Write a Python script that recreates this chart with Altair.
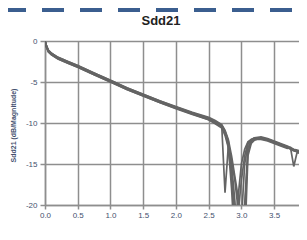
import altair as alt
import pandas as pd

freq = [0, 0.02, 0.05, 0.1, 0.2, 0.35, 0.5, 0.75, 1.0, 1.25, 1.5, 1.75, 2.0, 2.25,
        2.5, 2.6, 2.7, 2.75, 2.8, 2.85, 2.9, 2.95, 3.0, 3.05, 3.1, 3.15, 3.2, 3.3,
        3.4, 3.5, 3.6, 3.7, 3.75, 3.8, 3.85, 3.9, 4.0]

trace1 = [0, -0.6, -1.2, -1.6, -2.1, -2.6, -3.1, -4.0, -4.9, -5.8, -6.6, -7.4, -8.15, -8.85,
          -9.5, -9.9, -10.4, -18.5, -12.8, -16.0, -23.0, -19.0, -15.0, -13.2, -12.3, -12.0, -11.8, -11.8,
          -12.0, -12.3, -12.6, -12.9, -13.1, -13.3, -13.4, -13.5, -13.8]
trace2 = [0, -0.7, -1.3, -1.7, -2.2, -2.7, -3.2, -4.1, -5.0, -5.9, -6.7, -7.5, -8.25, -8.95,
          -9.6, -10.0, -10.5, -11.2, -12.8, -18.0, -25.0, -21.0, -17.0, -14.0, -12.4, -12.0, -11.9, -11.9,
          -12.1, -12.4, -12.7, -13.0, -13.2, -13.4, -13.5, -13.6, -13.9]
trace3 = [0, -0.5, -1.1, -1.5, -2.0, -2.5, -3.0, -3.9, -4.8, -5.7, -6.5, -7.3, -8.05, -8.75,
          -9.4, -9.8, -10.3, -11.0, -12.2, -15.0, -19.5, -25.0, -22.0, -15.0, -12.6, -12.1, -11.8, -11.7,
          -11.9, -12.2, -12.5, -12.8, -13.0, -13.2, -13.3, -13.4, -13.7]
trace4 = [0, -0.7, -1.3, -1.7, -2.2, -2.7, -3.2, -4.1, -5.0, -5.9, -6.7, -7.5, -8.2, -8.9,
          -9.6, -10.1, -10.6, -11.5, -13.0, -16.5, -21.0, -24.0, -24.0, -20.0, -13.0, -12.2, -12.0, -12.0,
          -12.2, -12.5, -12.8, -13.1, -13.0, -15.3, -13.6, -13.7, -14.0]
trace5 = [0, -0.6, -1.2, -1.6, -2.1, -2.6, -3.1, -4.0, -4.9, -5.8, -6.6, -7.4, -8.1, -8.8,
          -9.5, -9.9, -10.4, -11.2, -12.6, -14.5, -17.0, -20.5, -25.0, -21.0, -13.5, -12.3, -12.0, -11.8,
          -12.0, -12.3, -12.6, -12.9, -13.1, -13.3, -13.4, -13.5, -13.8]
trace6 = [0, -0.5, -1.1, -1.5, -2.0, -2.5, -3.0, -3.9, -4.8, -5.7, -6.5, -7.3, -8.0, -8.7,
          -9.3, -9.7, -10.2, -10.9, -12.0, -14.0, -16.5, -19.0, -23.0, -25.0, -14.0, -12.5, -12.1, -11.8,
          -12.0, -12.3, -12.6, -12.9, -13.1, -13.3, -13.4, -13.5, -13.8]

traces = {"t1": trace1, "t2": trace2, "t3": trace3, "t4": trace4, "t5": trace5, "t6": trace6}
x_ticks = [0.0, 0.5, 1.0, 1.5, 2.0, 2.5, 3.0, 3.5]
y_ticks = [0, -5, -10, -15, -20]
title_text = "Sdd21"
y_title = "Sdd21 (dB/Magnitude)"

rows = []
for name, vals in traces.items():
    for f, v in zip(freq, vals):
        rows.append({"trace": name, "f": f, "db": v})
df = pd.DataFrame(rows)

label_color = "#44506e"
grid_color = "#8e8e8e"

lines = alt.Chart(df).mark_line(clip=True, strokeWidth=1.7, color="#646464").encode(
    x=alt.X("f:Q", scale=alt.Scale(domain=[0, 3.88], nice=False),
            axis=alt.Axis(values=x_ticks, format=".1f", title=None, labelFontSize=8,
                          labelColor=label_color, labelPadding=2, tickSize=4,
                          labelFlush=False)),
    y=alt.Y("db:Q", scale=alt.Scale(domain=[-20, 0], nice=False),
            axis=alt.Axis(values=y_ticks, labelExpr="datum.value", title=y_title,
                          titleFontSize=7, titleFontWeight="bold", titleColor=label_color,
                          titleX=-32, titleY=84, titleAngle=-90, titleAlign="center",
                          titleBaseline="middle", labelFontSize=8, labelColor=label_color,
                          labelPadding=3, tickSize=5, labelFlush=False)),
    detail="trace:N",
)

one = pd.DataFrame({"a": [0]})

dashed = alt.Chart(one).mark_rule(
    color="#3b5e8f", strokeWidth=4, strokeDash=[22, 16]
).encode(x=alt.value(-41), x2=alt.value(260), y=alt.value(-31))

title = alt.Chart(one).mark_text(
    text=title_text, fontSize=13, font="Liberation Sans", fontWeight="bold",
    color="#222222", align="center", baseline="middle"
).encode(x=alt.value(116), y=alt.value(-20))

chart = alt.layer(lines, dashed, title).properties(
    width=254, height=164,
    padding={"left": 37, "top": 33, "right": 0, "bottom": 15},
    autosize=alt.AutoSizeParams(type="none"),
).configure_axis(
    gridColor=grid_color, gridWidth=1.5, gridOpacity=1,
    domainColor=grid_color, domainWidth=1.5,
    tickColor=grid_color, tickWidth=1.5,
    labelFont="Liberation Sans", titleFont="Liberation Sans",
).configure_view(stroke=None)

chart.save("out.html", embed_options={"renderer": "svg", "actions": False})
